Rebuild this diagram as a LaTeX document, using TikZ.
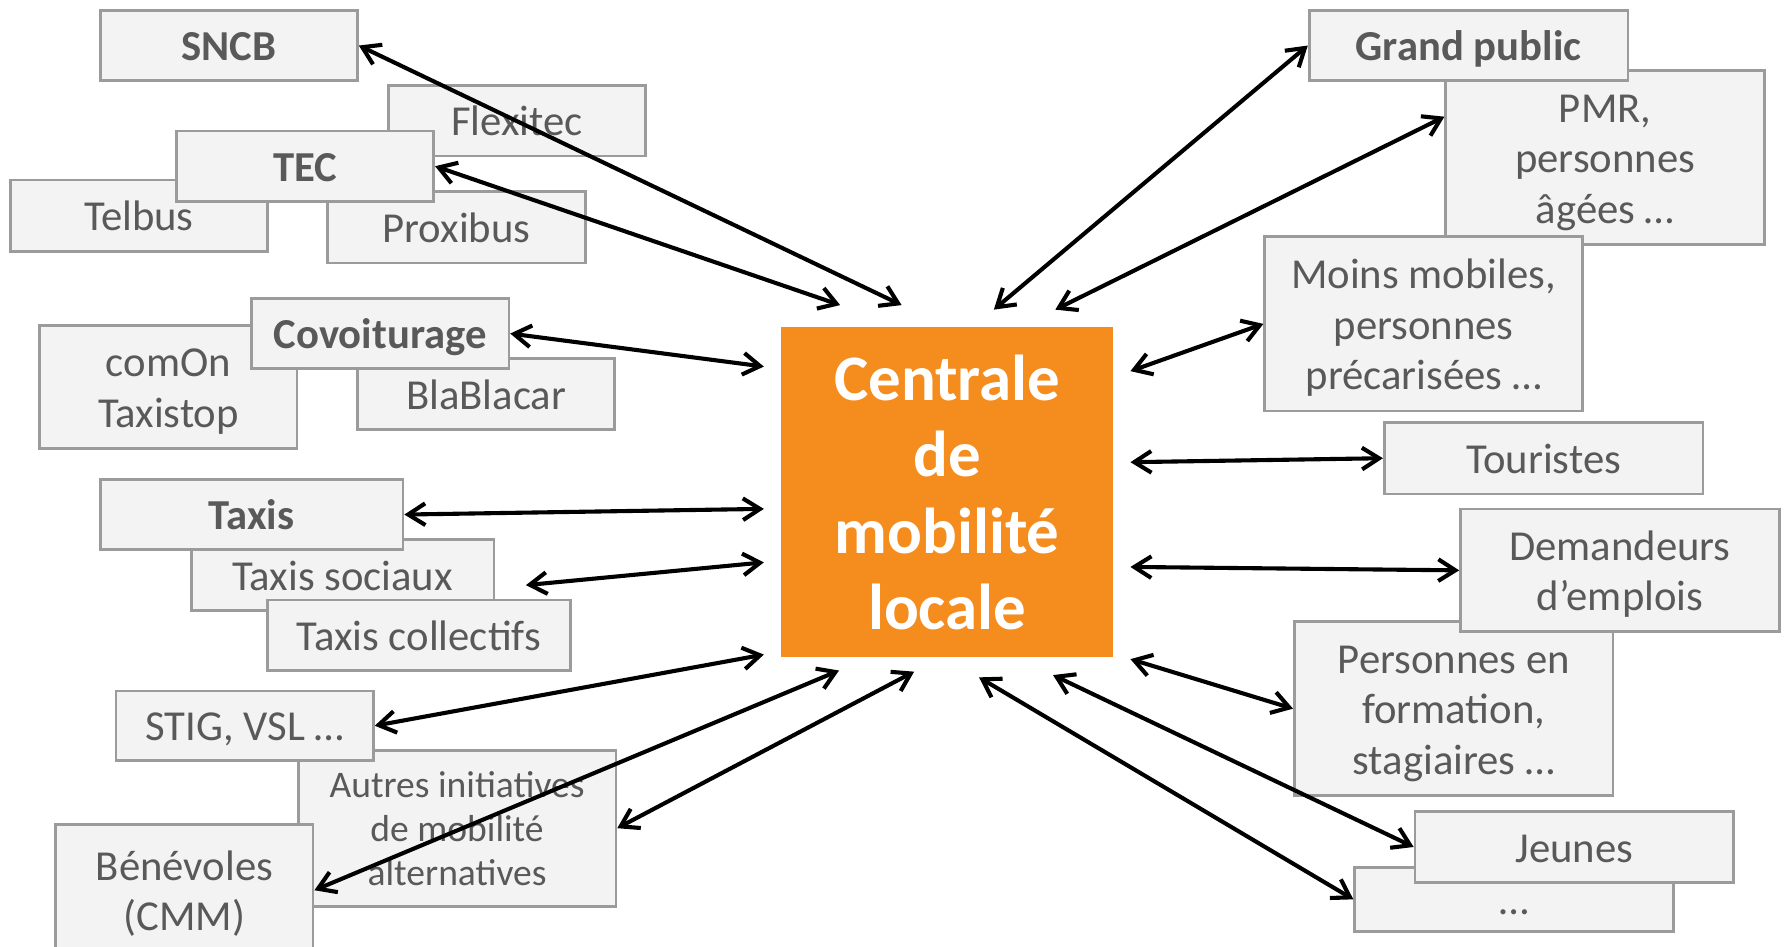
\documentclass[tikz,border=0pt]{standalone}
\usepackage{fontspec}
\setmainfont{Carlito}
\usetikzlibrary{arrows.meta}
\definecolor{boxfill}{RGB}{243,243,243}
\definecolor{boxline}{RGB}{155,155,155}
\definecolor{txtgrey}{RGB}{89,89,89}
\definecolor{cmlorange}{RGB}{245,140,30}
% lines of a label, centred, the ink lowered a little without changing the box size
\newcommand\lbl[2][4.5pt]{\raisebox{-#1}[\height][\depth]{\begin{tabular}{@{}c@{}}#2\end{tabular}}}
\tikzset{
  box/.style={draw=boxline, fill=boxfill, line width=2.4pt, inner sep=0pt,
    text=txtgrey, font=\fontsize{37.5}{44.5}\selectfont},
  boldbox/.style={box, font=\fontsize{37.5}{44.5}\selectfont\bfseries},
  smallbox/.style={box, font=\fontsize{33}{38.5}\selectfont},
  centre/.style={fill=cmlorange, inner sep=0pt, text=white,
    font=\fontsize{57}{67}\selectfont\bfseries},
  biarrow/.style={{Straight Barb[length=15pt,width=19pt]}-{Straight Barb[length=15pt,width=19pt]},
    line width=3.6pt, draw=black}
}
\begin{document}
\begin{tikzpicture}[x=1pt,y=-1pt]
\useasboundingbox (0,0) rectangle (1568,831);
% left side
\node[box, minimum width=226, minimum height=62] (flex) at (454,106) {\lbl{Flexitec}};
\node[box, minimum width=226, minimum height=63] (telbus) at (122,189.5) {\lbl{Telbus}};
\node[box, minimum width=226, minimum height=63] (prox) at (401,199.5) {\lbl{Proxibus}};
\node[boldbox, minimum width=226, minimum height=62] (tec) at (268,146) {\lbl{TEC}};
\node[boldbox, minimum width=226, minimum height=62] (sncb) at (201,40) {\lbl{SNCB}};
\node[box, minimum width=226, minimum height=108] (comon) at (148,340) {\lbl{comOn\\Taxistop}};
\node[box, minimum width=226, minimum height=62] (bla) at (427,346) {\lbl{BlaBlacar}};
\node[boldbox, minimum width=226, minimum height=62] (cov) at (334,293) {\lbl{Covoiturage}};
\node[box, minimum width=266, minimum height=62] (tsoc) at (301,505) {\lbl{Taxis sociaux}};
\node[boldbox, minimum width=266, minimum height=62] (taxis) at (221,452) {\lbl{Taxis}};
\node[box, minimum width=266, minimum height=62] (tcol) at (368,558) {\lbl{Taxis collectifs}};
\node[smallbox, minimum width=279, minimum height=137] (autres) at (401.5,727.5) {\lbl[4pt]{Autres initiatives\\de mobilité\\alternatives}};
\node[box, minimum width=226, minimum height=61] (stig) at (215,637.5) {\lbl{STIG, VSL …}};
\node[box, minimum width=226, minimum height=116] (ben) at (162,782) {\lbl{Bénévoles\\(CMM)}};
% right side
\node[box, minimum width=280, minimum height=153] (pmr) at (1410,138.5) {\lbl{PMR,\\personnes\\âgées …}};
\node[boldbox, minimum width=280, minimum height=62] (gp) at (1290,40) {\lbl{Grand public}};
\node[box, minimum width=279, minimum height=153] (moins) at (1250.5,284.5) {\lbl{Moins mobiles,\\personnes\\précarisées …}};
\node[box, minimum width=280, minimum height=63] (tour) at (1356,402.5) {\lbl{Touristes}};
\node[box, minimum width=280, minimum height=153] (pers) at (1277,622.5) {\lbl{Personnes en\\formation,\\stagiaires …}};
\node[box, minimum width=280, minimum height=108] (dem) at (1423,501) {\lbl{Demandeurs\\d’emplois}};
\node[box, minimum width=280, minimum height=56] (dots) at (1330,790) {\lbl{…}};
\node[box, minimum width=280, minimum height=62] (jeunes) at (1383,744) {\lbl{Jeunes}};
% centre
\node[centre, minimum width=292, minimum height=290] (c) at (832,432) {\lbl[7pt]{Centrale\\de\\mobilité\\locale}};
% connector ends near the centre
\coordinate (c1) at (792,268);
\coordinate (c2) at (738,268);
\coordinate (c3) at (671,322);
\coordinate (c4) at (671,447);
\coordinate (c5) at (671,494);
\coordinate (c6) at (671,575);
\coordinate (c7) at (737,589);
\coordinate (c8) at (803,590);
\coordinate (c9) at (873,272);
\coordinate (c10) at (927,272);
\coordinate (c11) at (993,326);
\coordinate (c12) at (993,406);
\coordinate (c13) at (993,498);
\coordinate (c14) at (993,579);
\coordinate (c15) at (925,593);
\coordinate (c16) at (860,595);
\coordinate (ts1) at (462,514);
% connectors
\draw[biarrow] (sncb.east) -- (c1);
\draw[biarrow] (tec.east) -- (c2);
\draw[biarrow] (cov.east) -- (c3);
\draw[biarrow] (taxis.east) -- (c4);
\draw[biarrow] (ts1) -- (c5);
\draw[biarrow] (stig.east) -- (c6);
\draw[biarrow] (ben.east) -- (c7);
\draw[biarrow] (autres.east) -- (c8);
\draw[biarrow] (c9) -- (gp.west);
\draw[biarrow] (c10) -- ([yshift=36pt]pmr.west);
\draw[biarrow] (c11) -- (moins.west);
\draw[biarrow] (c12) -- (tour.west);
\draw[biarrow] (c13) -- (dem.west);
\draw[biarrow] (c14) -- (pers.west);
\draw[biarrow] (c15) -- (jeunes.west);
\draw[biarrow] (c16) -- (dots.west);
\end{tikzpicture}
\end{document}
